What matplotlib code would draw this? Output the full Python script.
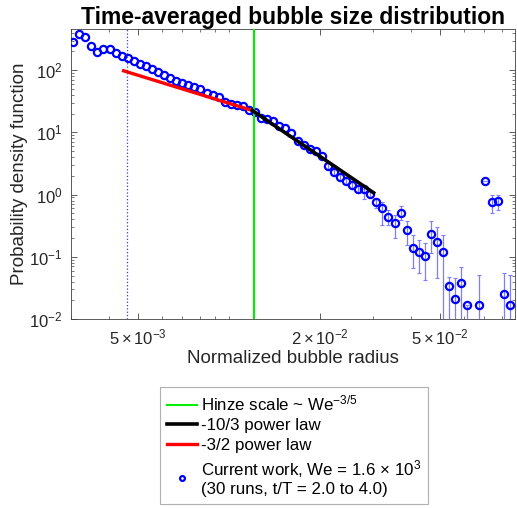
import matplotlib
matplotlib.use('Agg')
import matplotlib.pyplot as plt
import matplotlib.ticker as mticker
from matplotlib.lines import Line2D
import numpy as np

plt.rcParams['font.family'] = ['Liberation Sans', 'DejaVu Sans']
plt.rcParams['mathtext.fontset'] = 'custom'
plt.rcParams['mathtext.rm'] = 'Liberation Sans'
plt.rcParams['mathtext.it'] = 'Liberation Sans:italic'
plt.rcParams['mathtext.bf'] = 'Liberation Sans:bold'

# bin centres (x 1e-3) and pdf values
radius = np.array([3.050, 3.194, 3.345, 3.503, 3.669, 3.843, 4.024, 4.215, 4.414, 4.623,
                   4.841, 5.070, 5.310, 5.561, 5.824, 6.100, 6.388, 6.690, 7.007, 7.338,
                   7.685, 8.049, 8.429, 8.828, 9.246, 9.683, 10.14, 10.62, 11.12, 11.65,
                   12.20, 12.78, 13.38, 14.01, 14.68, 15.37, 16.10, 16.86, 17.66, 18.49,
                   19.37, 20.28, 21.24, 22.25, 23.30, 24.40, 25.55, 26.76, 28.03, 29.35,
                   30.74, 32.20, 33.72, 35.31, 36.98, 38.73, 40.56, 42.48, 44.49, 46.59,
                   48.80, 51.10, 53.52, 56.05, 58.70, 61.48, 67.43, 70.62, 73.96, 77.46,
                   81.12, 84.96]) * 1e-3
pdf = np.array([288, 379, 343, 245, 199, 216, 216, 191, 169, 155,
                142, 128, 116, 104, 94.2, 85.2, 74.2, 68.1, 62.5, 57.1,
                53.8, 49.2, 43.0, 39.9, 36.5, 30.8, 28.5, 27.8, 26.5, 23.3,
                21.6, 17.3, 16.5, 15.1, 12.8, 11.6, 9.6, 7.39, 6.32, 5.44,
                4.94, 4.10, 2.88, 2.31, 1.94, 1.65, 1.42, 1.24, 1.21, 1.01,
                0.754, 0.611, 0.436, 0.349, 0.513, 0.265, 0.137, 0.121, 0.104, 0.232,
                0.176, 0.120, 0.0337, 0.0207, 0.0376, 0.0166, 0.0166, 1.63, 0.754, 0.80,
                0.0249, 0.0168])

# error bar bounds for the tail (from point 43 on)
tail_start = 42
err_lo = [2.60, 2.07, 1.73, 1.46, 1.24, 1.05, 0.86, 0.90, 0.611, 0.327,
          0.327, 0.200, 0.395, 0.155, 0.065, 0.054, 0.042, 0.114, 0.045, 0.001,
          0.001, 0.001, 0.001, 0.001, 0.001, 1.63, 0.507, 0.573, 0.001, 0.001]
err_hi = [3.20, 2.58, 2.18, 1.86, 1.62, 1.43, 1.40, 1.14, 0.887, 0.754,
          0.573, 0.476, 0.649, 0.370, 0.225, 0.187, 0.166, 0.370, 0.307, 0.225,
          0.0476, 0.0453, 0.0691, 0.0166, 0.0507, 1.63, 1.00, 1.00, 0.054, 0.0507]

# power law fits (end points)
red_x = [4.48e-3, 0.01195]
red_y = [97.7, 22.5]
black_x = [0.01195, 0.0301]
black_y = [22.5, 1.07]

hinze = 0.0121
resolution = 4.6e-3

fig = plt.figure(figsize=(5.17, 5.08), dpi=100)
ax = fig.add_axes([0.1373, 0.372, 0.859, 0.571])

tail_x = radius[tail_start:]
tail_y = pdf[tail_start:]
yerr = [tail_y - np.array(err_lo), np.array(err_hi) - tail_y]
ax.errorbar(tail_x, tail_y, yerr=yerr, fmt='none', ecolor='#7d7dff', elinewidth=0.9,
            capsize=1.5, capthick=0.8, zorder=2)
ax.plot(radius, pdf, 'o', mfc='none', mec='#0000ff', mew=1.6, ms=5.2, zorder=3)

ax.axvline(resolution, color='#3333ff', ls=':', lw=0.9, zorder=1)
ax.axvline(hinze, color='#00ee00', lw=1.5, zorder=4)
ax.plot(red_x, red_y, color='#ff0000', lw=2.4, zorder=5)
ax.plot(black_x, black_y, color='black', lw=2.6, zorder=5)

ax.set_xscale('log')
ax.set_yscale('log')
ax.set_xlim(3.0e-3, 0.0885)
ax.set_ylim(1e-2, 460)

ax.xaxis.set_major_locator(mticker.FixedLocator([5e-3, 2e-2, 5e-2]))
ax.xaxis.set_major_formatter(mticker.FixedFormatter(
    [r'$5\times10^{-3}$', r'$2\times10^{-2}$', r'$5\times10^{-2}$']))
ax.xaxis.set_minor_locator(mticker.LogLocator(base=10, subs=np.arange(1, 10), numticks=20))
ax.xaxis.set_minor_formatter(mticker.NullFormatter())
ax.yaxis.set_major_locator(mticker.LogLocator(base=10, numticks=10))
ax.yaxis.set_minor_locator(mticker.LogLocator(base=10, subs=np.arange(2, 10), numticks=20))

ax.tick_params(which='both', direction='in', top=True, right=True, color='#404040',
               labelsize=12, labelcolor='#262626', pad=6)
ax.tick_params(which='major', length=4, width=0.6)
ax.tick_params(which='minor', length=2.2, width=0.5)
for s in ax.spines.values():
    s.set_color('#404040')
    s.set_linewidth(0.6)

ax.set_xlabel('Normalized bubble radius', fontsize=13.5, color='#262626', labelpad=2)
ax.set_ylabel('Probability density function', fontsize=13.5, color='#262626', labelpad=1)
ax.set_title('Time-averaged bubble size distribution', fontsize=16.5, fontweight='bold',
             pad=3)

handles = [
    Line2D([], [], color='#00ee00', lw=1.5),
    Line2D([], [], color='black', lw=2.6),
    Line2D([], [], color='#ff0000', lw=2.4),
    Line2D([], [], ls='none', marker='o', mfc='none', mec='#0000ff', mew=1.6, ms=3.5),
]
labels = [
    r'Hinze scale ~ We$^{-3/5}$',
    '-10/3 power law',
    '-3/2 power law',
    'Current work, We = 1.6 $\\times$ 10$^3$\n(30 runs, t/T = 2.0 to 4.0)',
]
leg = fig.legend(handles, labels, loc='upper left', bbox_to_anchor=(160 / 517, 1 - 387 / 508),
                 fontsize=12.2, frameon=True, fancybox=False, edgecolor='#b0b0b0',
                 framealpha=1, handlelength=1.8, handletextpad=0.2, borderaxespad=0,
                 labelspacing=0.28, borderpad=0.4)
leg.get_frame().set_linewidth(0.8)

plt.savefig('out.png', dpi=100)
